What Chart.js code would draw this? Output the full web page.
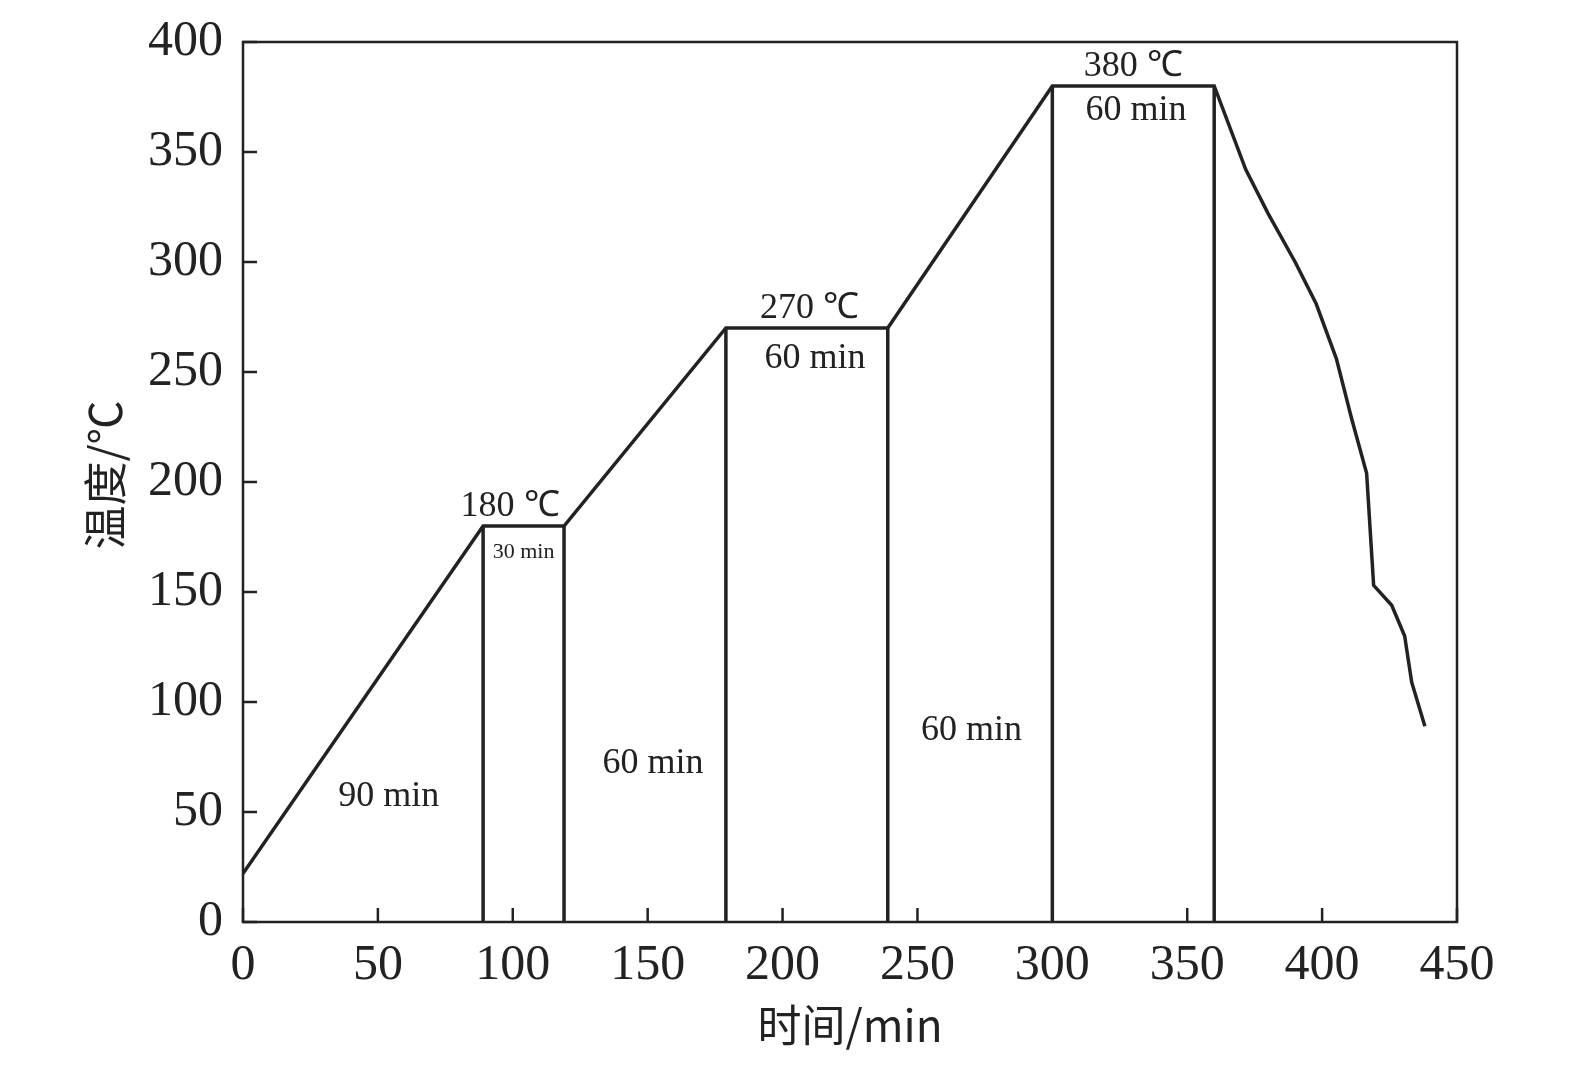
<!DOCTYPE html>
<html><head><meta charset="utf-8">
<script src="https://cdn.jsdelivr.net/npm/chart.js@4"></script>
<style>html,body{margin:0;padding:0;background:#fff}#c{display:block}</style>
</head><body><canvas id="c" width="1575" height="1069"></canvas>
<script>
const profileX=[0,89,119,179,239,300,360,371.7,380,390,397.8,405.3,410.9,416.5,419.1,425.8,430.6,433.2,438.1];
const profileY=[22,180,180,270,270,380,380,342,322,300,281,256,229,204,153,144,130,109,89];
const verticalX=[89,119,179,239,300,360];
const verticalTop=[180,180,270,270,380,380];
const labels=[
 {t:"180 ℃",x:99,y:189,s:36},{t:"30 min",x:104,y:168,s:22},
 {t:"270 ℃",x:210,y:279,s:36},{t:"60 min",x:212,y:256,s:36},
 {t:"380 ℃",x:330,y:389,s:36},{t:"60 min",x:331,y:369,s:36},
 {t:"90 min",x:54,y:57,s:36},{t:"60 min",x:152,y:72,s:36},{t:"60 min",x:270,y:87,s:36}];
const xTicks=[0,50,100,150,200,250,300,350,400,450];
const yTicks=[0,50,100,150,200,250,300,350,400];
const serif="'Liberation Serif','Times New Roman',serif";
const ds=[{data:profileX.map((x,i)=>({x,y:profileY[i]})),borderColor:'#222',borderWidth:3.5,pointRadius:0,showLine:true,tension:0}];
verticalX.forEach((x,i)=>ds.push({data:[{x,y:0},{x,y:verticalTop[i]}],borderColor:'#222',borderWidth:3.5,pointRadius:0,showLine:true}));
const deco={id:'deco',afterDraw(ch){const c=ch.ctx,a=ch.chartArea,sx=ch.scales.x,sy=ch.scales.y;
 c.save();c.strokeStyle='#222';c.lineWidth=2.5;c.strokeRect(a.left,a.top,a.right-a.left,a.bottom-a.top);
 xTicks.forEach(v=>{const p=sx.getPixelForValue(v);c.beginPath();c.moveTo(p,a.bottom);c.lineTo(p,a.bottom-14);c.stroke();});
 yTicks.forEach(v=>{const p=sy.getPixelForValue(v);c.beginPath();c.moveTo(a.left,p);c.lineTo(a.left+14,p);c.stroke();});
 c.fillStyle='#222';c.textAlign='center';c.textBaseline='middle';
 labels.forEach(l=>{c.font=l.s+'px '+serif;c.fillText(l.t,sx.getPixelForValue(l.x),sy.getPixelForValue(l.y));});
 c.font="44px 'Noto Sans CJK SC',"+serif;c.fillText('时间/min',(a.left+a.right)/2,1025);
 c.translate(105,475);c.rotate(-Math.PI/2);c.fillText('温度/℃',0,0);c.restore();}};
new Chart(document.getElementById('c'),{type:'scatter',data:{datasets:ds},
 options:{responsive:false,animation:false,layout:{padding:{top:27,right:118}},
 plugins:{legend:{display:false},tooltip:{enabled:false}},
 scales:{x:{type:'linear',min:0,max:450,afterBuildTicks(s){s.ticks=xTicks.map(v=>({value:v}));},afterFit(s){s.height=147;},
   grid:{display:false},border:{display:false},ticks:{color:'#222',font:{family:serif,size:50},padding:6}},
  y:{min:0,max:400,afterBuildTicks(s){s.ticks=yTicks.map(v=>({value:v}));},afterFit(s){s.width=243;},
   grid:{display:false},border:{display:false},ticks:{color:'#222',font:{family:serif,size:50},padding:12}}}},
 plugins:[deco]});
</script></body></html>
